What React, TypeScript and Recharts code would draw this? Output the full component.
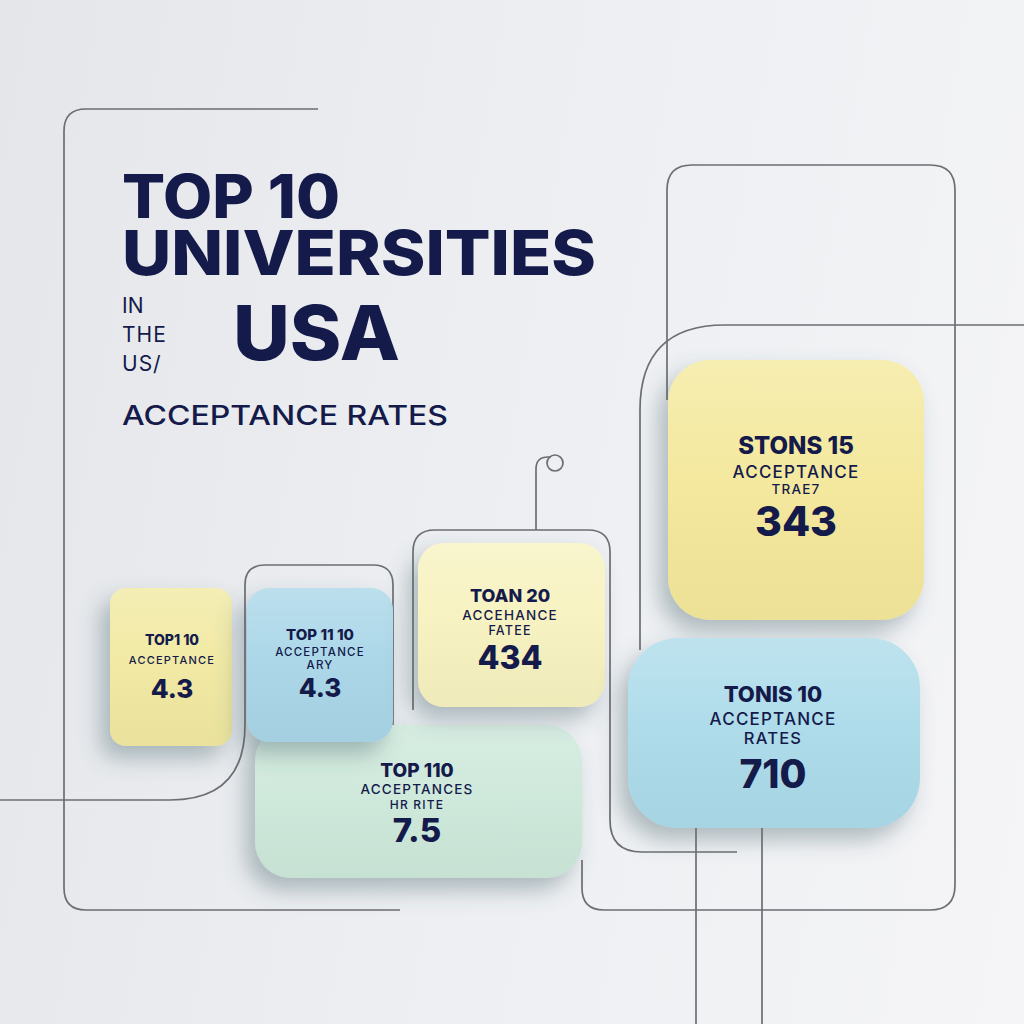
import {
  ComposedChart,
  Customized,
  ReferenceArea,
  ReferenceDot,
  ReferenceLine,
  XAxis,
  YAxis,
} from 'recharts'

// box contents, in drawing order (back to front)
const boxTitles = ['TOP 110', 'TOP1 10', 'TOP 11 10', 'TOAN 20', 'STONS 15', 'TONIS 10']
const boxSubtitles = [
  ['ACCEPTANCES', 'HR RITE'],
  ['ACCEPTANCE'],
  ['ACCEPTANCE', 'ARY'],
  ['ACCEHANCE', 'FATEE'],
  ['ACCEPTANCE', 'TRAE7'],
  ['ACCEPTANCE', 'RATES'],
]
const boxValues = ['7.5', '4.3', '4.3', '434', '343', '710']

// layout of the boxes in axis units (the axes run 0..1024 in both directions)
const boxLayout = [
  { x1: 255, x2: 582, y1: 725, y2: 878, r: 36, fill: '#cde8da', cx: 417, ty: [52, 69, 84, 117], fs: [19, 13.5, 12, 33] },
  { x1: 110, x2: 232, y1: 588, y2: 746, r: 16, fill: '#f1e9a1', cx: 172, ty: [57, 76, 0, 110], fs: [14, 11, 0, 26] },
  { x1: 247, x2: 393, y1: 588, y2: 742, r: 22, fill: '#a9d6e8', cx: 320, ty: [52, 68, 81, 109], fs: [15, 11.5, 11.5, 26] },
  { x1: 418, x2: 605, y1: 543, y2: 707, r: 26, fill: '#f7f2bf', cx: 510, ty: [59, 77, 92, 126], fs: [18, 13.5, 12.5, 32] },
  { x1: 668, x2: 924, y1: 360, y2: 620, r: 42, fill: '#f4e89b', cx: 796, ty: [94, 118, 134, 176], fs: [24, 17, 13.5, 41] },
  { x1: 628, x2: 920, y1: 638, y2: 828, r: 50, fill: '#acdbea', cx: 773, ty: [64, 87, 106, 150], fs: [22, 17, 16.5, 39] },
]

// thin decorative guide lines (polylines with rounded corners)
const guides = [
  { pts: [[318, 109], [64, 109], [64, 910], [400, 910]], r: [22, 22] },
  { pts: [[393, 760], [393, 565], [245, 565], [245, 800], [0, 800]], r: [20, 20, 75] },
  { pts: [[413, 710], [413, 530], [610, 530], [610, 852], [737, 852]], r: [22, 22, 32] },
  { pts: [[1024, 325], [640, 325], [640, 650]], r: [85] },
  { pts: [[667, 400], [667, 165], [955, 165], [955, 910], [582, 910], [582, 860]], r: [25, 25, 25, 22] },
  { pts: [[536, 530], [536, 457], [551, 457]], r: [12] },
]
const dropLines = [696, 762]

const NAVY = '#141a4a'
const LINE = '#6c6e73'
const FONT = 'Inter, "Open Sans", sans-serif'

function roundedPath(pts: number[][], radii: number[]) {
  let d = `M${pts[0][0]},${pts[0][1]}`
  for (let i = 1; i < pts.length - 1; i++) {
    const [px, py] = pts[i - 1]
    const [cx, cy] = pts[i]
    const [nx, ny] = pts[i + 1]
    const r = radii[i - 1]
    const d1 = Math.hypot(cx - px, cy - py)
    const d2 = Math.hypot(nx - cx, ny - cy)
    const ax = cx + ((px - cx) / d1) * r
    const ay = cy + ((py - cy) / d1) * r
    const bx = cx + ((nx - cx) / d2) * r
    const by = cy + ((ny - cy) / d2) * r
    d += ` L${ax},${ay} Q${cx},${cy} ${bx},${by}`
  }
  const last = pts[pts.length - 1]
  return d + ` L${last[0]},${last[1]}`
}

function bounds(pts: number[][]) {
  const xs = pts.map((p) => p[0])
  const ys = pts.map((p) => p[1])
  return { x1: Math.min(...xs), x2: Math.max(...xs), y1: Math.min(...ys), y2: Math.max(...ys) }
}

function GuideShape(props: any, gi: number) {
  const g = guides[gi]
  const b = bounds(g.pts)
  const { x, y, width, height } = props
  const sx = width / (b.x2 - b.x1)
  const sy = height / (b.y2 - b.y1)
  const mapped = g.pts.map(([px, py]) => [x + (px - b.x1) * sx, y + (py - b.y1) * sy])
  return <path d={roundedPath(mapped, g.r.map((r) => r * sx))} fill="none" stroke={LINE} strokeWidth={1.7} />
}

function BoxShape(props: any, i: number) {
  const { x, y, width, height } = props
  const L = boxLayout[i]
  const sx = width / (L.x2 - L.x1)
  const cx = x + (L.cx - L.x1) * sx
  const subs = boxSubtitles[i]
  return (
    <g>
      <rect x={x} y={y} width={width} height={height} rx={L.r} ry={L.r} fill={L.fill} filter="url(#boxShadow)" />
      <rect x={x} y={y} width={width} height={height} rx={L.r} ry={L.r} fill="url(#boxGloss)" />
      <text x={cx} y={y + L.ty[0]} textAnchor="middle" fill={NAVY} fontFamily={FONT} fontWeight={800} fontSize={L.fs[0]}>
        {boxTitles[i]}
      </text>
      {subs.map((s, k) => (
        <text
          key={k}
          x={cx}
          y={y + L.ty[1 + k]}
          textAnchor="middle"
          fill={NAVY}
          fontFamily={FONT}
          fontWeight={500}
          fontSize={L.fs[1 + k]}
          letterSpacing={1.2}
        >
          {s}
        </text>
      ))}
      <text x={cx} y={y + L.ty[3]} textAnchor="middle" fill={NAVY} fontFamily={FONT} fontWeight={800} fontSize={L.fs[3]}>
        {boxValues[i]}
      </text>
    </g>
  )
}

function Defs() {
  return (
    <defs>
      <filter id="boxShadow" x="-40%" y="-30%" width="170%" height="180%">
        <feDropShadow dx={-9} dy={12} stdDeviation={11} floodColor="#3f5d66" floodOpacity={0.38} />
      </filter>
      <linearGradient id="boxGloss" x1="0" y1="0" x2="0" y2="1">
        <stop offset="0%" stopColor="#ffffff" stopOpacity={0.22} />
        <stop offset="45%" stopColor="#ffffff" stopOpacity={0.04} />
        <stop offset="100%" stopColor="#000000" stopOpacity={0.03} />
      </linearGradient>
    </defs>
  )
}

function Title() {
  return (
    <g fill={NAVY} fontFamily={FONT}>
      <text x={122} y={218} fontSize={60} fontWeight={800} textLength={218} lengthAdjust="spacingAndGlyphs">
        TOP 10
      </text>
      <text x={122} y={275} fontSize={62} fontWeight={800} textLength={474} lengthAdjust="spacingAndGlyphs">
        UNIVERSITIES
      </text>
      <text x={122} y={313} fontSize={21} fontWeight={400}>IN</text>
      <text x={122} y={342} fontSize={21} fontWeight={400} letterSpacing={1}>THE</text>
      <text x={122} y={371} fontSize={21} fontWeight={400} letterSpacing={1}>US/</text>
      <text x={233} y={360} fontSize={76} fontWeight={800} textLength={167} lengthAdjust="spacingAndGlyphs">
        USA
      </text>
      <text x={122} y={425} fontSize={27} fontWeight={500} textLength={326} lengthAdjust="spacingAndGlyphs">
        ACCEPTANCE RATES
      </text>
    </g>
  )
}

export default function App() {
  return (
    <div
      style={{
        position: 'absolute',
        left: 0,
        top: 0,
        width: 1024,
        height: 1024,
        background: 'linear-gradient(100deg, #e4e6ea 0%, #eceef1 45%, #f5f5f7 100%)',
      }}
    >
      <ComposedChart width={1024} height={1024} margin={{ top: 0, right: 0, bottom: 0, left: 0 }}>
        <XAxis type="number" dataKey="x" domain={[0, 1024]} hide allowDataOverflow />
        <YAxis type="number" dataKey="y" domain={[0, 1024]} reversed hide allowDataOverflow />
        <Customized component={Defs} />
        {guides.map((g, gi) => {
          const b = bounds(g.pts)
          return (
            <ReferenceArea
              key={`g${gi}`}
              x1={b.x1}
              x2={b.x2}
              y1={b.y1}
              y2={b.y2}
              ifOverflow="visible"
              shape={(p: any) => GuideShape(p, gi)}
            />
          )
        })}
        {dropLines.map((x) => (
          <ReferenceLine
            key={`d${x}`}
            segment={[{ x, y: 828 }, { x, y: 1024 }]}
            stroke={LINE}
            strokeWidth={1.7}
            ifOverflow="visible"
          />
        ))}
        <ReferenceDot x={555} y={463} r={8} fill="none" stroke={LINE} strokeWidth={1.7} ifOverflow="visible" />
        {boxLayout.map((L, i) => (
          <ReferenceArea
            key={`b${i}`}
            x1={L.x1}
            x2={L.x2}
            y1={L.y1}
            y2={L.y2}
            ifOverflow="visible"
            shape={(p: any) => BoxShape(p, i)}
          />
        ))}
        <Customized component={Title} />
      </ComposedChart>
    </div>
  )
}
